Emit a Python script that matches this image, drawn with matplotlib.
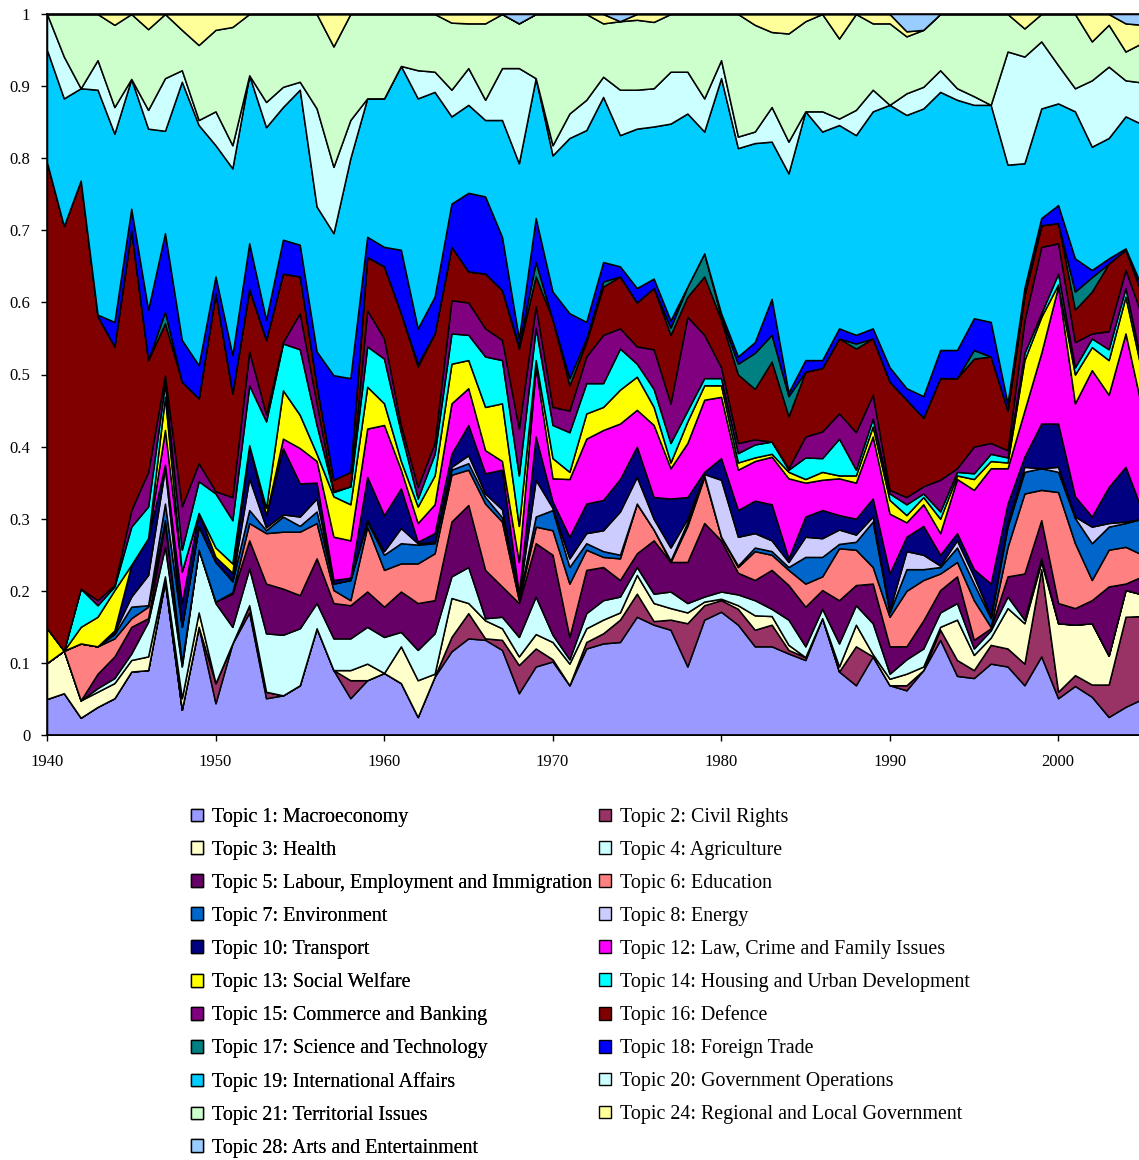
import matplotlib
matplotlib.use("Agg")
import matplotlib.pyplot as plt
from matplotlib.patches import Patch

years = list(range(1940, 2006))

topic_labels = [
    "Topic 1: Macroeconomy", "Topic 2: Civil Rights", "Topic 3: Health",
    "Topic 4: Agriculture", "Topic 5: Labour, Employment and Immigration",
    "Topic 6: Education", "Topic 7: Environment", "Topic 8: Energy",
    "Topic 10: Transport", "Topic 12: Law, Crime and Family Issues",
    "Topic 13: Social Welfare", "Topic 14: Housing and Urban Development",
    "Topic 15: Commerce and Banking", "Topic 16: Defence",
    "Topic 17: Science and Technology", "Topic 18: Foreign Trade",
    "Topic 19: International Affairs", "Topic 20: Government Operations",
    "Topic 21: Territorial Issues", "Topic 24: Regional and Local Government",
    "Topic 28: Arts and Entertainment",
]

topic_colors = ["#9999FF", "#993366", "#FFFFCC", "#CCFFFF", "#660066", "#FF8080",
                "#0066CC", "#CCCCFF", "#000080", "#FF00FF", "#FFFF00", "#00FFFF",
                "#800080", "#800000", "#008080", "#0000FF", "#00CCFF", "#CCFFFF",
                "#CCFFCC", "#FFFF99", "#99CCFF"]

# shares in percent, 1940 ... 2005
macroeconomy = [5.0, 5.8, 2.4, 3.9, 5.1, 8.8, 9.0, 21.3, 3.5, 15.0,
                4.4, 12.7, 17.0, 5.1, 5.5, 6.9, 14.8, 9.0, 5.1, 7.6,
                8.6, 7.2, 2.5, 8.1, 11.6, 13.4, 13.2, 11.8, 5.8, 9.5,
                10.2, 6.9, 12.0, 12.7, 12.9, 16.4, 15.3, 14.6, 9.5, 16.0,
                17.1, 15.3, 12.3, 12.3, 11.3, 10.4, 16.2, 8.8, 6.9, 10.9,
                6.9, 6.2, 9.0, 13.2, 8.2, 7.9, 9.9, 9.5, 6.9, 10.9,
                5.1, 6.8, 5.3, 2.5, 3.9, 5.0]
civil_rights = [0, 0, 0, 0, 0, 0, 0, 0, 0, 0,
                2.8, 0, 1.0, 0.9, 0, 0, 0, 0, 2.5, 0,
                0, 0, 0, 0, 2.0, 3.5, 0.2, 1.4, 3.9, 2.5,
                0.3, 0, 0.9, 1.4, 3.1, 3.2, 0.5, 1.4, 6.0, 2.0,
                1.6, 2.2, 2.3, 3.0, 0.5, 0.4, 0, 0, 5.4, 0,
                0, 0.7, 0, 1.4, 2.2, 1.1, 2.6, 2.5, 3.0, 12.1,
                0.9, 1.5, 1.7, 4.5, 12.5, 11.5]
health = [5.0, 5.9, 2.4, 2.1, 2.1, 1.6, 1.9, 0.7, 1.6, 2.0,
          0, 0, 0, 0, 0, 0, 0, 0, 1.4, 2.3,
          0, 5.1, 5.1, 0.4, 5.4, 1.4, 2.5, 1.6, 1.2, 2.0,
          2.4, 3.0, 1.9, 1.9, 1.0, 2.6, 2.5, 1.6, 1.5, 0.5,
          0.2, 0.5, 2.0, 1.2, 0.7, 0, 0, 0.7, 3.0, 0.3,
          0.9, 1.6, 0.5, 0.4, 5.6, 2.1, 1.0, 5.6, 5.6, 1.0,
          9.5, 7.0, 8.5, 4.0, 3.7, 3.0]
agriculture = [0, 0, 0, 0.5, 0.7, 0.9, 4.8, 4.1, 4.4, 8.7,
               11.1, 2.3, 5.1, 8.1, 8.4, 7.9, 3.5, 4.4, 4.4, 5.1,
               5.0, 2.0, 4.2, 5.6, 3.0, 5.0, 0.3, 1.6, 2.7, 5.2,
               1.0, 0.6, 2.1, 2.7, 2.2, 1.1, 1.3, 2.3, 1.3, 0.7,
               1.0, 1.5, 2.1, 1.0, 3.5, 1.5, 1.3, 3.2, 2.7, 4.3,
               0.7, 2.0, 2.5, 2.0, 2.3, 0.9, 1.0, 1.6, 0.5, 0.5,
               0, 0, 0, 0, 0, 0]
labour = [0, 0, 0, 2.0, 3.0, 3.7, 0.5, 3.3, 0.5, 0,
          0.2, 4.6, 3.9, 6.9, 6.4, 4.6, 6.2, 4.9, 4.6, 4.9,
          4.2, 5.6, 6.5, 4.6, 7.6, 8.6, 6.7, 4.2, 4.7, 7.4,
          11.1, 3.1, 6.0, 4.6, 2.3, 1.9, 7.4, 4.1, 5.7, 10.2,
          7.1, 3.0, 2.8, 5.4, 4.8, 5.5, 2.6, 6.0, 2.8, 5.5,
          3.8, 1.8, 3.9, 3.1, 3.7, 1.2, 0.3, 2.8, 6.4, 5.3,
          2.8, 2.3, 3.2, 9.6, 0.9, 2.5]
education = [0, 0, 7.9, 3.8, 2.5, 1.2, 1.6, 0.4, 0, 0,
             0, 0.2, 2.4, 7.0, 7.9, 8.8, 4.9, 1.8, 0.7, 9.0,
             5.1, 3.9, 5.5, 6.5, 6.5, 4.9, 9.2, 9.0, 0.4, 2.3,
             3.4, 7.4, 2.8, 1.4, 3.0, 6.9, 1.5, 0, 5.0, 6.4,
             0.5, 0.8, 4.0, 2.1, 2.1, 3.2, 1.9, 7.2, 4.9, 2.3,
             4.1, 7.7, 5.6, 2.3, 2.0, 5.5, 0.2, 4.1, 11.1, 4.2,
             15.4, 9.0, 2.8, 5.1, 5.1, 3.0]
environment = [0, 0, 0, 0, 0.6, 1.6, 0.2, 2.3, 5.0, 3.2,
               5.5, 1.5, 1.8, 0.4, 2.1, 0.8, 1.6, 0.9, 2.8, 0.7,
               2.1, 2.8, 2.6, 1.4, 0.7, 0.9, 0.9, 0.6, 0.3, 1.4,
               2.8, 2.3, 0.9, 0.8, 0.5, 0, 0, 0.2, 0.5, 0.2,
               0, 0.2, 0.5, 0.5, 0.4, 3.7, 2.7, 0.6, 1.1, 6.3,
               0.6, 3.0, 1.5, 0.9, 2.0, 2.3, 1.2, 2.8, 3.0, 3.0,
               2.8, 3.5, 5.1, 3.2, 3.3, 5.0]
energy = [0, 0, 0, 0, 0.3, 1.4, 4.2, 4.9, 0, 0.1,
          0, 0.2, 4.4, 0.4, 0.3, 1.3, 1.8, 0, 0, 0.2,
          0.5, 2.1, 0.2, 0.2, 0.4, 1.1, 0.5, 1.1, 0.2, 5.1,
          0.3, 1.2, 1.4, 2.9, 6.0, 3.7, 1.5, 1.8, 0.5, 0.2,
          7.9, 4.0, 2.0, 1.5, 0.7, 2.8, 2.6, 2.0, 1.0, 0.7,
          0.3, 2.5, 2.0, 0.2, 1.0, 1.0, 0.3, 0.6, 0.7, 0,
          0.7, 0.2, 2.3, 0.5, 0.2, 0]
transport = [0, 0, 0, 0, 0.2, 4.4, 5.1, 0.5, 3.3, 1.8,
             0.7, 1.0, 4.6, 1.7, 9.2, 4.6, 2.2, 0.5, 0.3, 6.0,
             5.0, 5.5, 0.2, 1.2, 1.8, 4.2, 2.8, 5.5, 0.4, 6.0,
             0.9, 3.0, 4.1, 4.2, 4.5, 4.2, 3.0, 6.8, 3.0, 0.3,
             3.0, 3.7, 4.5, 5.0, 0.5, 2.8, 3.9, 2.0, 2.2, 2.5,
             5.1, 2.0, 4.0, 1.5, 1.0, 1.0, 4.5, 2.6, 1.4, 6.2,
             6.0, 2.8, 1.4, 5.0, 7.6, 1.0]
law_crime = [0, 0, 0, 0, 0, 0, 0, 4.8, 4.4, 0,
             0, 0, 0, 0, 1.3, 4.9, 3.0, 6.0, 5.2, 6.7,
             12.5, 2.6, 2.6, 4.0, 7.0, 5.1, 3.2, 1.2, 4.4, 9.6,
             3.2, 8.0, 9.0, 9.7, 7.7, 5.1, 10.0, 4.2, 7.5, 10.0,
             8.5, 5.6, 5.5, 6.6, 11.1, 4.7, 4.2, 5.1, 5.0, 8.6,
             8.3, 2.0, 3.0, 3.0, 7.5, 11.0, 16.0, 4.9, 6.4, 9.8,
             19.0, 12.9, 20.3, 12.8, 18.5, 14.0]
social_welfare = [4.8, 0, 2.3, 4.1, 5.6, 0, 0, 4.6, 0, 0,
                  1.3, 1.3, 0, 1.0, 6.7, 4.6, 1.0, 5.6, 5.0, 5.8,
                  3.0, 1.2, 2.3, 4.0, 5.5, 3.9, 6.0, 8.0, 5.0, 1.0,
                  2.8, 1.0, 3.5, 3.2, 4.7, 4.6, 2.5, 0.8, 3.0, 2.0,
                  1.6, 1.0, 0.5, 0.4, 0.9, 0.5, 1.1, 0.4, 1.0, 1.4,
                  1.9, 1.0, 1.0, 2.0, 0.5, 1.5, 1.0, 0.8, 7.0, 5.0,
                  0.3, 4.0, 3.2, 4.8, 5.1, 5.0]
housing = [0, 0, 5.3, 1.6, 0.5, 5.3, 4.4, 1.9, 3.0, 4.4,
           7.5, 6.0, 8.3, 12.0, 6.5, 9.1, 4.0, 0.6, 2.5, 5.6,
           6.2, 4.0, 1.1, 3.0, 4.2, 3.5, 7.0, 6.0, 7.0, 4.5,
           4.6, 5.5, 4.2, 3.3, 5.7, 1.8, 2.5, 2.7, 1.5, 1.0,
           1.0, 1.3, 1.8, 1.7, 0.3, 3.0, 1.9, 5.1, 0.8, 1.1,
           0.9, 1.5, 0.5, 1.0, 0.5, 0.8, 1.0, 0.7, 1.0, 0.5,
           1.5, 1.0, 1.2, 1.5, 1.2, 1.0]
commerce = [0, 0, 0, 0.7, 0.2, 2.3, 4.8, 1.1, 6.0, 2.5,
            0.3, 3.2, 4.7, 1.0, 0.2, 5.0, 3.0, 0.1, 0, 5.0,
            2.8, 1.0, 1.6, 1.5, 4.6, 4.5, 3.9, 2.8, 6.5, 3.0,
            2.5, 3.0, 3.7, 6.7, 2.8, 2.4, 5.5, 5.5, 13.0, 6.0,
            1.5, 1.4, 0.7, 0, 0.2, 2.9, 3.7, 3.5, 5.2, 3.3,
            0.5, 1.0, 1.0, 4.4, 0.5, 3.7, 1.5, 1.0, 4.5, 9.2,
            4.2, 3.5, 0.7, 2.5, 2.5, 7.0]
defence = [64.6, 58.9, 56.6, 39.4, 33.1, 38.8, 15.5, 7.2, 17.3, 9.0,
           27.5, 14.4, 8.5, 10.3, 9.5, 5.1, 2.5, 1.6, 2.0, 7.4,
           10.0, 15.5, 16.7, 15.2, 7.4, 4.3, 7.6, 6.9, 11.1, 4.1,
           12.1, 3.5, 2.0, 6.7, 7.2, 6.1, 8.5, 9.5, 2.8, 8.1,
           6.6, 9.5, 7.0, 11.1, 7.2, 9.0, 8.8, 10.4, 11.6, 7.8,
           15.0, 13.5, 9.5, 14.1, 12.5, 12.2, 12.0, 5.5, 3.5, 3.0,
           2.8, 4.5, 5.8, 9.4, 2.8, 3.0]
science = [0, 0, 0, 0, 0, 0, 0, 1.6, 0, 0,
           0, 0, 0.2, 0, 0, 0, 0, 0, 0, 0,
           0, 0, 0.4, 0, 0, 0, 0, 0, 0.4, 2.0,
           0, 1.0, 0.5, 0.7, 0, 0, 0, 1.0, 1.4, 3.2,
           0.4, 1.5, 5.0, 3.7, 2.8, 0, 0, 0, 0.7, 0,
           0, 0, 0, 0, 0, 1.2, 0, 0, 0, 0,
           0, 2.5, 2.0, 0, 0, 0]
foreign_trade = [0, 0, 0, 0.2, 3.4, 3.0, 7.0, 10.9, 5.8, 4.6,
                 2.3, 5.3, 6.3, 2.8, 4.7, 4.4, 4.7, 14.5, 13.0, 2.8,
                 2.7, 8.8, 4.9, 5.1, 6.0, 10.9, 10.7, 7.4, 1.0, 6.1,
                 3.9, 9.0, 2.3, 2.7, 1.4, 2.0, 1.3, 1.0, 0, 0,
                 0.5, 1.0, 1.5, 5.0, 0.5, 1.6, 1.1, 1.4, 1.2, 1.4,
                 2.0, 1.6, 3.0, 3.9, 3.9, 4.4, 4.8, 1.0, 1.0, 1.0,
                 2.5, 4.6, 1.0, 0.7, 0.2, 1.0]
international = [15.6, 17.7, 12.8, 31.2, 26.1, 18.0, 25.1, 14.2, 35.8, 33.3,
                 18.2, 25.9, 23.3, 26.7, 18.4, 21.5, 20.1, 19.7, 30.5, 19.2,
                 20.6, 25.5, 31.9, 28.4, 12.1, 12.2, 10.6, 16.2, 24.3, 19.4,
                 18.9, 24.3, 26.6, 22.9, 18.2, 22.1, 21.1, 27.3, 24.0, 16.9,
                 32.6, 28.9, 27.6, 21.8, 30.4, 34.5, 31.7, 28.2, 27.7, 30.1,
                 36.4, 37.9, 39.9, 35.8, 34.7, 29.6, 30.1, 33.1, 17.3, 15.2,
                 14.1, 20.4, 17.1, 16.7, 18.3, 22.7]
government_ops = [5.0, 5.8, 0, 4.1, 3.7, 0, 2.6, 7.3, 1.6, 0.7,
                  4.7, 3.2, 0, 3.5, 2.8, 1.1, 13.6, 9.2, 5.3, 0,
                  0, 0, 3.9, 2.8, 3.7, 5.1, 2.8, 7.2, 13.2, 0,
                  1.4, 3.4, 4.2, 2.8, 6.3, 5.4, 5.3, 7.2, 5.8, 4.6,
                  2.5, 1.6, 1.6, 4.8, 4.4, 0, 2.8, 0.9, 3.5, 3.0,
                  0, 3.0, 3.0, 3.0, 1.6, 1.2, 0, 15.7, 14.8, 9.3,
                  5.3, 3.2, 9.2, 9.9, 5.0, 5.8]
territorial = [0, 5.9, 10.3, 6.4, 11.4, 9.0, 11.2, 8.9, 5.6, 10.4,
               11.3, 16.4, 8.5, 12.2, 10.1, 9.4, 13.1, 16.7, 14.7, 11.7,
               11.7, 7.2, 7.8, 8.0, 9.3, 6.2, 10.6, 7.5, 6.2, 8.9,
               18.2, 13.8, 11.9, 7.4, 9.5, 9.7, 9.2, 8.0, 8.0, 11.7,
               6.4, 17.0, 14.8, 10.4, 15.0, 12.5, 13.5, 11.1, 13.3, 9.2,
               11.3, 7.9, 7.9, 7.8, 10.3, 11.4, 12.6, 5.2, 3.9, 3.8,
               7.1, 10.3, 5.4, 5.8, 4.0, 5.5]
regional_local = [0, 0, 0, 0, 1.5, 0, 2.1, 0, 2.2, 4.3,
                  2.2, 1.8, 0, 0, 0, 0, 0, 4.5, 0, 0,
                  0, 0, 0, 0, 1.2, 1.3, 1.3, 0, 0, 0,
                  0, 0, 0, 1.3, 0, 0.8, 1.1, 0, 0, 0,
                  0, 0, 1.5, 2.5, 2.7, 1.0, 0, 3.4, 0, 1.3,
                  1.3, 0.7, 0, 0, 0, 0, 0, 0, 2.0, 0,
                  0, 0, 3.8, 1.5, 3.9, 2.5]
arts = [0, 0, 0, 0, 0, 0, 0, 0, 0, 0,
        0, 0, 0, 0, 0, 0, 0, 0, 0, 0,
        0, 0, 0, 0, 0, 0, 0, 0, 1.3, 0,
        0, 0, 0, 0, 1.0, 0, 0, 0, 0, 0,
        0, 0, 0, 0, 0, 0, 0, 0, 0, 0,
        0, 2.4, 2.2, 0, 0, 0, 0, 0, 0, 0,
        0, 0, 0, 0, 1.3, 1.5]

series = [macroeconomy, civil_rights, health, agriculture, labour, education,
          environment, energy, transport, law_crime, social_welfare, housing,
          commerce, defence, science, foreign_trade, international,
          government_ops, territorial, regional_local, arts]

serif = ["Liberation Serif", "DejaVu Serif"]

fig = plt.figure(figsize=(11.39, 11.60), dpi=100)
ax = fig.add_axes([47 / 1139, 1 - 735 / 1160, 1 - 47 / 1139, (735 - 14) / 1160])

ax.stackplot(years, [[v / 100.0 for v in s] for s in series], colors=topic_colors,
             edgecolor="black", linewidth=1.1)

ax.set_xlim(1940, 2004.8)
ax.set_ylim(0, 1)
ax.set_xticks(range(1940, 2001, 10))
ax.set_xticklabels([str(y) for y in range(1940, 2001, 10)], fontfamily=serif, fontsize=12)
yt = [i / 10 for i in range(11)]
ax.set_yticks(yt)
ax.set_yticklabels(["0", "0.1", "0.2", "0.3", "0.4", "0.5", "0.6", "0.7", "0.8", "0.9", "1"],
                   fontfamily=serif, fontsize=12)
ax.tick_params(axis="x", direction="out", length=4, width=1, colors="black", pad=10)
ax.tick_params(axis="y", direction="out", length=4, width=1, colors="black", pad=8)
ax.spines["right"].set_visible(False)
for sp in ["left", "bottom", "top"]:
    ax.spines[sp].set_linewidth(1.2)
    ax.spines[sp].set_color("black")

handles = [Patch(facecolor=c, edgecolor="black", linewidth=1.0) for c in topic_colors]
left_idx = list(range(0, 21, 2))
right_idx = list(range(1, 21, 2))

common = dict(loc="upper left", frameon=False, prop={"family": serif, "size": 14.4},
              handlelength=0.6, handleheight=0.6, handletextpad=0.45,
              labelspacing=0.695, borderaxespad=0, borderpad=0)
leg1 = fig.legend([handles[i] for i in left_idx], [topic_labels[i] for i in left_idx],
                  bbox_to_anchor=(191 / 1139, 1 - 808 / 1160), **common)
leg2 = fig.legend([handles[i] for i in right_idx], [topic_labels[i] for i in right_idx],
                  bbox_to_anchor=(599 / 1139, 1 - 808 / 1160), **common)
fig.add_artist(leg1)

fig.savefig("out.png", dpi=100)
